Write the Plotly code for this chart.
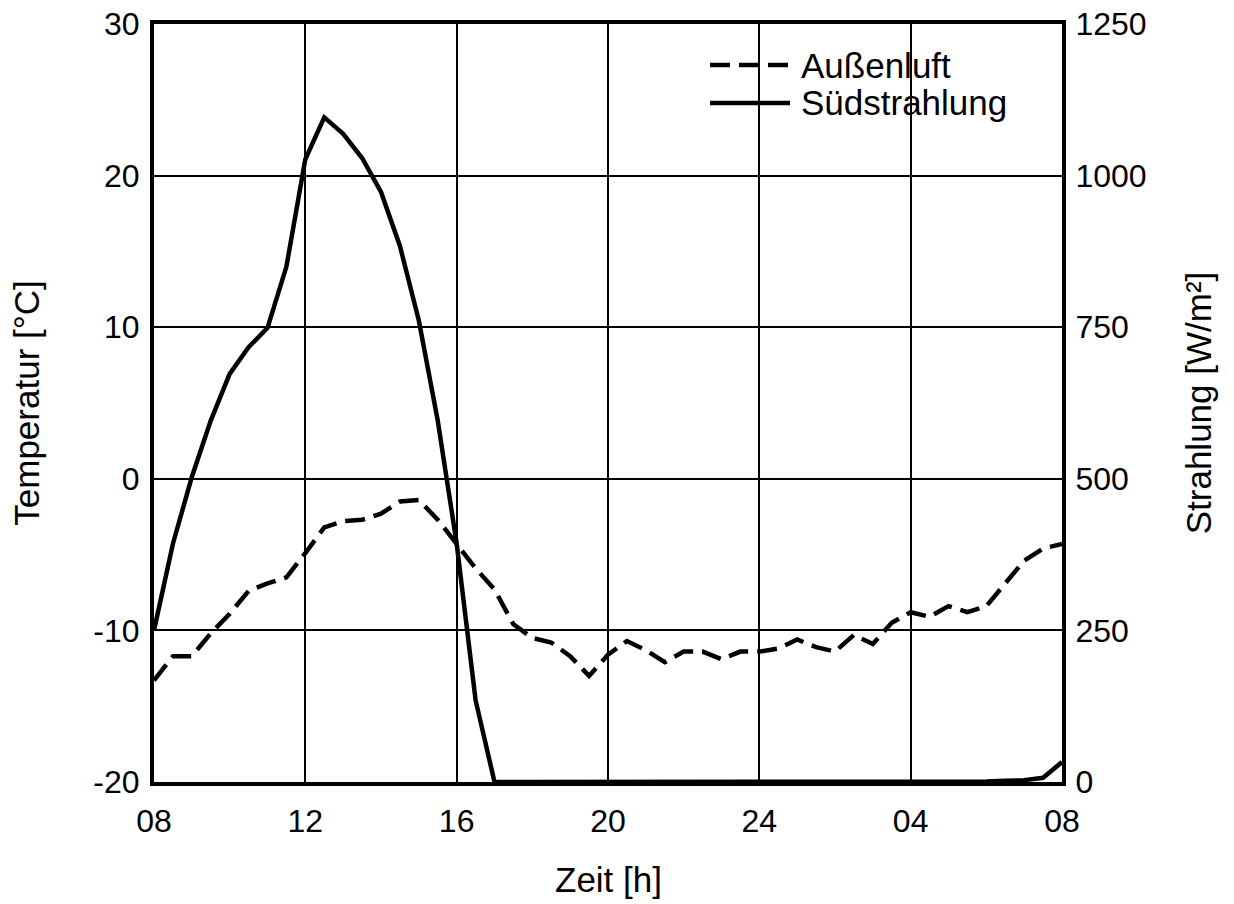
import plotly.graph_objects as go

# time in hours since 00:00 of first day (08 -> 32 = 08 next day)
hours = [8.0, 8.5, 9.0, 9.5, 10.0, 10.5, 11.0, 11.5, 12.0, 12.5, 13.0, 13.5,
         14.0, 14.5, 15.0, 15.5, 16.0, 16.5, 17.0, 17.5, 18.0, 18.5, 19.0, 19.5,
         20.0, 20.5, 21.0, 21.5, 22.0, 22.5, 23.0, 23.5, 24.0, 24.5, 25.0, 25.5,
         26.0, 26.5, 27.0, 27.5, 28.0, 28.5, 29.0, 29.5, 30.0, 30.5, 31.0, 31.5, 32.0]

aussenluft = [-13.3, -11.7, -11.7, -10.2, -8.9, -7.4, -6.9, -6.5, -4.9, -3.2, -2.8, -2.7,
              -2.3, -1.5, -1.4, -2.7, -4.3, -5.9, -7.3, -9.6, -10.5, -10.8, -11.7, -13.0,
              -11.6, -10.7, -11.3, -12.1, -11.4, -11.4, -11.9, -11.4, -11.4, -11.2, -10.6, -11.1,
              -11.4, -10.3, -10.9, -9.5, -8.8, -9.1, -8.4, -8.8, -8.4, -6.9, -5.4, -4.6, -4.3]

suedstrahlung = [250, 393, 503, 596, 673, 717, 749, 850, 1027, 1096, 1069, 1029,
                 973, 884, 761, 596, 393, 135, 0, 0, 0, 0, 0, 0,
                 0, 1, 1, 1, 0, 0, 0, 0, 0, 0, 0, 0,
                 1, 1, 0, 0, 0, 0, 0, 0, 1, 2, 3, 7, 33]

x_tickvals = [8, 12, 16, 20, 24, 28, 32]
x_ticktext = ["08", "12", "16", "20", "24", "04", "08"]
y_left_ticks = [-20, -10, 0, 10, 20, 30]
y_left_text = ["-20", "-10", "0", "10", "20", "30"]
y_right_ticks = [0, 250, 500, 750, 1000, 1250]
y_right_text = ["0", "250", "500", "750", "1000", "1250"]

series_names = ["Außenluft", "Südstrahlung"]
series_dash = ["20px,9px", "solid"]

FONT = "Liberation Sans, Arial, sans-serif"

fig = go.Figure()
fig.add_trace(go.Scatter(
    x=hours, y=aussenluft, name=series_names[0], mode="lines",
    line=dict(color="black", width=4.5, dash=series_dash[0]), yaxis="y",
    showlegend=False))
fig.add_trace(go.Scatter(
    x=hours, y=suedstrahlung, name=series_names[1], mode="lines",
    line=dict(color="black", width=4.5), yaxis="y2", showlegend=False))

W, H = 1234, 904
L, R, T, B = 154, 172, 24, 122
pw = W - L - R
ph = H - T - B

def px_x(p):
    return (p - L) / pw

def px_y(p):
    return 1 - (p - T) / ph

# hand-made legend (shapes + text), placed in paper coordinates
shapes = [dict(
    type="rect", xref="paper", yref="paper", layer="between",
    x0=px_x(700), x1=px_x(1030), y0=px_y(134), y1=px_y(38),
    fillcolor="white", line=dict(width=0),
)]
annotations = []
legend_rows_y = [65, 103]
for name, dash, ry in zip(series_names, series_dash, legend_rows_y):
    shapes.append(dict(
        type="line", xref="paper", yref="paper", layer="above",
        x0=px_x(710), x1=px_x(790), y0=px_y(ry), y1=px_y(ry),
        line=dict(color="black", width=4.5, dash=dash),
    ))
    annotations.append(dict(
        text=name, xref="paper", yref="paper", x=px_x(799), y=px_y(ry),
        xanchor="left", yanchor="middle", showarrow=False,
        font=dict(size=35, family=FONT, color="black"),
    ))

# x-axis title
annotations.append(dict(
    text="Zeit [h]", xref="paper", yref="paper", x=0.5, y=px_y(879),
    xanchor="center", yanchor="middle", showarrow=False,
    font=dict(size=35, family=FONT, color="black"),
))

fig.update_layout(
    width=W, height=H,
    margin=dict(l=L, r=R, t=T, b=B, pad=0),
    paper_bgcolor="white", plot_bgcolor="white",
    font=dict(family=FONT, color="black", size=32),
    showlegend=False,
    xaxis=dict(
        range=[8, 32], tickvals=x_tickvals, ticktext=x_ticktext,
        showgrid=True, gridcolor="black", gridwidth=2,
        showline=True, linecolor="black", linewidth=4, mirror=True,
        ticks="", zeroline=False, ticklabelstandoff=8, automargin=False,
        tickfont=dict(size=32, family=FONT),
    ),
    yaxis=dict(
        range=[-20, 30], tickvals=y_left_ticks, ticktext=y_left_text,
        showgrid=True, gridcolor="black", gridwidth=2,
        showline=True, linecolor="black", linewidth=4, mirror=True,
        ticks="", zeroline=False, ticklabelstandoff=4, automargin=False,
        tickfont=dict(size=32, family=FONT),
        title=dict(text="Temperatur [°C]", font=dict(size=35, family=FONT), standoff=44),
    ),
    yaxis2=dict(
        range=[0, 1250], tickvals=y_right_ticks, ticktext=y_right_text,
        overlaying="y", side="right",
        showgrid=False, showline=True, linecolor="black", linewidth=4,
        ticks="", zeroline=False, ticklabelstandoff=3, automargin=False,
        tickfont=dict(size=32, family=FONT),
        title=dict(text="Strahlung [W/m²]", font=dict(size=35, family=FONT), standoff=42),
    ),
    shapes=shapes,
    annotations=annotations,
)

fig.write_html("out.html", config={"displayModeBar": False},
               post_script="document.body.style.margin='0';")
